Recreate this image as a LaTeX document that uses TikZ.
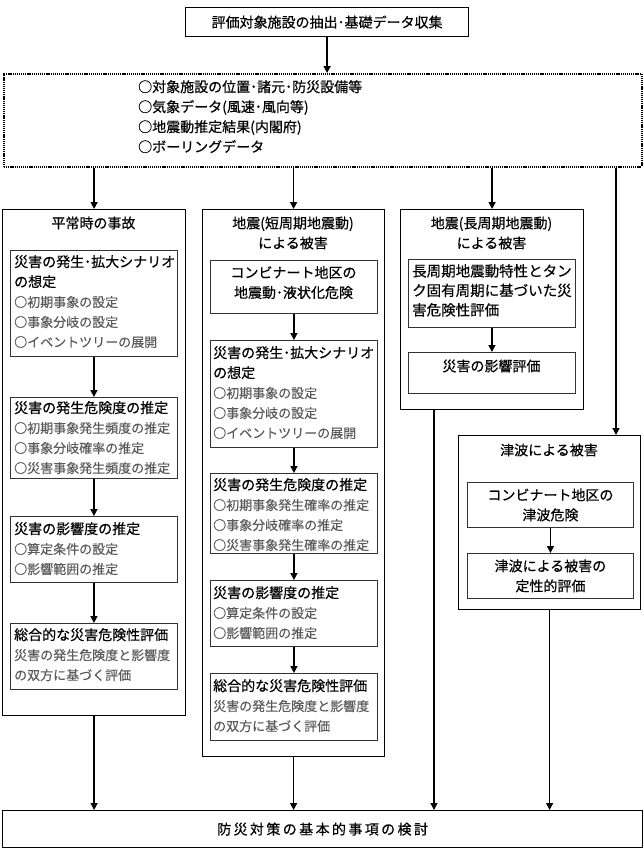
\documentclass[tikz,border=0pt]{standalone}
\usepackage{fontspec}
\setmainfont{Noto Sans CJK JP}
\newfontfamily\hdfam{Noto Sans CJK JP}[FakeBold=0.45]
\newfontfamily\itfam{Noto Sans CJK JP}[FakeBold=0.2]
\usetikzlibrary{arrows.meta}
\definecolor{itemgray}{HTML}{5A5A5A}
\definecolor{linegray}{HTML}{333333}
\newcommand\hdf{\hdfam\fontsize{14}{20}\selectfont\color{black}}
\newcommand\itf{\itfam\fontsize{13}{18.2}\selectfont\color{itemgray}}
\newcommand\lsp{\hspace{2.4pt}}
\tikzset{
  outerbox/.style={draw=black, line width=1.2pt, inner sep=0pt, anchor=north west},
  innerbox/.style={draw=linegray, line width=0.9pt, inner sep=0pt, anchor=north west},
  dotbox/.style={draw=black, line width=1.6pt, dash pattern=on 1.1pt off 0.8pt, inner sep=0pt, anchor=north west},
  txt/.style={inner sep=0pt, anchor=north west, align=left, font=\hdf},
  ctxt/.style={inner sep=0pt, align=center, font=\hdf},
  arr/.style={line width=1.4pt, -{Triangle[length=7pt,width=7pt]}},
}
\begin{document}
\begin{tikzpicture}[x=1pt,y=-1pt]
\useasboundingbox (0,0) rectangle (643,865);
% top
\node[outerbox, minimum width=283pt, minimum height=29pt, align=center, font=\hdf] (top) at (185,7) {評価対象施設の抽出･基礎データ収集};
% data box
\node[dotbox, minimum width=638pt, minimum height=93pt] (data) at (3,73) {};
\node[txt] (datatxt) at (138,80) {○対象施設の位置･諸元･防災設備等\\○気象データ(風速･風向等)\\○地震動推定結果(内閣府)\\○ボーリングデータ};
% columns
\node[outerbox, minimum width=183pt, minimum height=506pt] (col1) at (2,209) {};
\node[outerbox, minimum width=182pt, minimum height=547pt] (col2) at (202,209) {};
\node[outerbox, minimum width=183pt, minimum height=200pt] (col3) at (400,209) {};
\node[outerbox, minimum width=182pt, minimum height=174pt] (tsu) at (458,435) {};
\node[ctxt] (col1t) at (93.5,223) {平常時の事故};
\node[ctxt] (col2t) at (293,233) {地震(短周期地震動)\\による被害};
\node[ctxt] (col3t) at (491.5,233) {地震(長周期地震動)\\による被害};
\node[ctxt] (tsut) at (549,450) {津波による被害};
% column 1 boxes
\node[innerbox, minimum width=167pt, minimum height=106pt] (a1) at (10,250) {};
\node[innerbox, minimum width=167pt, minimum height=81pt] (a2) at (10,397) {};
\node[innerbox, minimum width=167pt, minimum height=66pt] (a3) at (10,516) {};
\node[innerbox, minimum width=167pt, minimum height=66pt] (a4) at (10,623) {};
\node[txt] (a1t) at (14,255) {\hdf 災害の発生･拡大シナリオ\\\hdf の想定\\\itf ○初期事象の設定\\\itf ○事象分岐の設定\\\itf ○イベントツリーの展開};
\node[txt] (a2t) at (14,401) {\hdf 災害の発生危険度の推定\\\itf ○初期事象発生頻度の推定\\\itf ○事象分岐確率の推定\\\itf ○災害事象発生頻度の推定};
\node[txt] (a3t) at (14,522) {\hdf 災害の影響度の推定\\\itf ○算定条件の設定\\\itf ○影響範囲の推定};
\node[txt] (a4t) at (14,628) {\hdf 総合的な災害危険性評価\\\itf 災害の発生危険度と影響度\\\itf の双方に基づく評価};
% column 2 boxes
\node[innerbox, minimum width=167pt, minimum height=53pt] (b1) at (210,260) {};
\node[innerbox, minimum width=167pt, minimum height=107pt] (b2) at (210,340) {};
\node[innerbox, minimum width=167pt, minimum height=80pt] (b3) at (210,473) {};
\node[innerbox, minimum width=167pt, minimum height=66pt] (b4) at (210,580) {};
\node[innerbox, minimum width=167pt, minimum height=67pt] (b5) at (210,673) {};
\node[ctxt] (b1t) at (293.5,282.5) {コンビナート地区の\\地震動･液状化危険};
\node[txt] (b2t) at (213,346) {\hdf 災害の発生･拡大シナリオ\\\hdf の想定\\\itf ○初期事象の設定\\\itf ○事象分岐の設定\\\itf ○イベントツリーの展開};
\node[txt] (b3t) at (213,478) {\hdf 災害の発生危険度の推定\\\itf ○初期事象発生確率の推定\\\itf ○事象分岐確率の推定\\\itf ○災害事象発生確率の推定};
\node[txt] (b4t) at (213,586) {\hdf 災害の影響度の推定\\\itf ○算定条件の設定\\\itf ○影響範囲の推定};
\node[txt] (b5t) at (213,679) {\hdf 総合的な災害危険性評価\\\itf 災害の発生危険度と影響度\\\itf の双方に基づく評価};
% column 3 boxes
\node[innerbox, minimum width=167pt, minimum height=68pt] (c1) at (408,259) {};
\node[innerbox, minimum width=167pt, minimum height=41pt] (c2) at (408,352) {};
\node[txt, font=\hdfam\fontsize{14.5}{19.5}\selectfont] (c1t) at (412,264) {長周期地震動特性とタン\\ク固有周期に基づいた災\\害危険性評価};
\node[ctxt] (c2t) at (491.5,366) {災害の影響評価};
% tsunami boxes
\node[innerbox, minimum width=166pt, minimum height=45pt, align=center, font=\hdf] (d1) at (467,482) {コンビナート地区の\\津波危険};
\node[innerbox, minimum width=166pt, minimum height=45pt, align=center, font=\hdf] (d2) at (467,553) {津波による被害の\\定性的評価};
% bottom
\node[outerbox, minimum width=640pt, minimum height=37pt, font=\hdf] (bot) at (2,810) {防\lsp 災\lsp 対\lsp 策\lsp の\lsp 基\lsp 本\lsp 的\lsp 事\lsp 項\lsp の\lsp 検\lsp 討};
% helper coordinates
\coordinate (rx) at (616,0);
\coordinate (c3x) at (434,0);
% arrows
\draw[arr] (top.south) -- (top.south |- data.north);
\draw[arr] (data.south -| col1.north) -- (col1.north);
\draw[arr] (data.south -| col2.north) -- (col2.north);
\draw[arr] (data.south -| col3.north) -- (col3.north);
\draw[arr] (data.south -| rx) -- (tsu.north -| rx);
\draw[arr] (a1.south) -- (a2.north);
\draw[arr] (a2.south) -- (a3.north);
\draw[arr] (a3.south) -- (a4.north);
\draw[arr] (b1.south) -- (b2.north);
\draw[arr] (b2.south) -- (b3.north);
\draw[arr] (b3.south) -- (b4.north);
\draw[arr] (b4.south) -- (b5.north);
\draw[arr] (c1.south) -- (c2.north);
\draw[arr] (d1.south) -- (d2.north);
\draw[arr] (col1.south) -- (bot.north -| col1.south);
\draw[arr] (col2.south) -- (bot.north -| col2.south);
\draw[arr] (col3.south -| c3x) -- (bot.north -| c3x);
\draw[arr] (tsu.south) -- (bot.north -| tsu.south);
\end{tikzpicture}
\end{document}
